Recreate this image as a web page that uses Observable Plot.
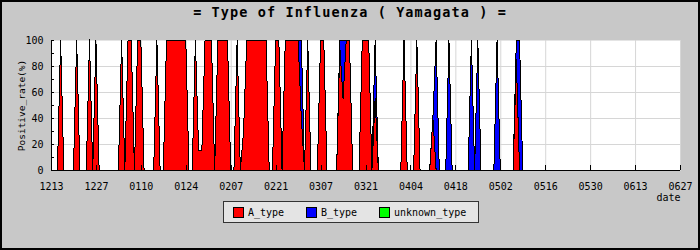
<!DOCTYPE html>
<html>
<head>
<meta charset="utf-8">
<script src="https://cdn.jsdelivr.net/npm/d3@7"></script>
<script src="https://cdn.jsdelivr.net/npm/@observablehq/plot@0.6"></script>
<style>
  html, body { margin: 0; padding: 0; background: #c8c8c8; }
  #chart svg { display: block; }
</style>
</head>
<body>
<div id="chart"></div>
<script>
// ---- data ----
const chartTitle = "= Type of Influenza ( Yamagata ) =";
const yLabel = "Positive_rate(%)";
const xLabel = "date";
const seasonStart = "2014-12-13";
const tickLabels = ["1213","1227","0110","0124","0207","0221","0307","0321","0404","0418","0502","0516","0530","0613","0627"];
const yTickValues = [0, 20, 40, 60, 80, 100];
const yMinorTicks = [0, 10, 20, 30, 40, 50, 60, 70, 80, 90, 100];
const seriesNames = ["A_type", "B_type", "unknown_type"];
const seriesColors = ["#ff0000", "#0000ff", "#00ff00"];

// daily values from 12/13 to 06/27, two weeks per row
const aType = [
  0,0,0,100,0,0,0,0,100,0,0,0,100,0,
  100,0,0,0,0,0,0,0,100,0,100,100,0,100,
  100,0,0,0,0,100,0,0,100,100,100,100,100,100,
  100,0,0,100,15,15,100,100,100,0,100,100,100,100,
  0,0,100,0,30,100,100,100,100,100,100,100,0,0,
  100,100,0,100,100,100,100,100,40,0,100,0,0,0,
  100,100,0,0,0,0,95,55,100,100,0,0,0,100,
  100,100,0,55,0,0,0,0,0,0,0,0,100,0,
  0,0,100,0,0,0,0,40,0,0,0,0,0,0,
  0,0,0,0,0,0,0,0,0,0,0,0,0,0,
  0,0,0,0,0,85,0,0,0,0,0,0,0,0,
  0,0,0,0,0,0,0,0,0,0,0,0,0,0,
  0,0,0,0,0,0,0,0,0,0,0,0,0,0,
  0,0,0,0,0,0,0,0,0,0,0,0,0,0,
  0
];
const bType = [
  0,0,0,0,0,0,0,0,0,0,0,0,0,0,
  0,0,0,0,0,0,0,0,0,0,0,0,0,0,
  0,0,0,0,0,0,0,0,0,0,0,0,0,0,
  0,0,0,0,0,0,0,0,0,0,0,0,0,0,
  0,0,0,0,0,0,0,0,0,0,0,0,0,0,
  0,0,0,0,0,0,0,0,60,0,0,0,0,0,
  0,0,0,0,0,0,5,45,0,0,0,0,0,0,
  0,0,0,45,0,0,0,0,0,0,0,0,0,0,
  0,0,0,0,0,0,0,0,100,0,0,0,100,0,
  0,0,0,0,0,100,0,100,0,0,0,0,0,100,
  0,0,0,0,0,15,100,0,0,0,0,0,0,0,
  0,0,0,0,0,0,0,0,0,0,0,0,0,0,
  0,0,0,0,0,0,0,0,0,0,0,0,0,0,
  0,0,0,0,0,0,0,0,0,0,0,0,0,0,
  0
];
const unknownType = [
  0,0,0,0,0,0,0,0,0,0,0,0,0,0,
  0,0,0,0,0,0,0,0,0,0,0,0,0,0,
  0,0,0,0,0,0,0,0,0,0,0,0,0,0,
  0,0,0,0,0,0,0,0,0,0,0,0,0,0,
  0,0,0,0,0,0,0,0,0,0,0,0,0,0,
  0,0,0,0,0,0,0,0,0,0,0,0,0,0,
  0,0,0,0,0,0,0,0,0,0,0,0,0,0,
  0,0,0,0,0,0,0,0,0,0,0,0,0,0,
  0,0,0,0,0,0,0,0,0,0,0,0,0,0,
  0,0,0,0,0,0,0,0,0,0,0,0,0,0,
  0,0,0,0,0,0,0,0,0,0,0,0,0,0,
  0,0,0,0,0,0,0,0,0,0,0,0,0,0,
  0,0,0,0,0,0,0,0,0,0,0,0,0,0,
  0,0,0,0,0,0,0,0,0,0,0,0,0,0,
  0
];

// ---- build table ----
const start = d3.utcParse("%Y-%m-%d")(seasonStart);
const startYear = start.getUTCFullYear();
const parseLabel = (s) => d3.utcParse("%Y%m%d")((+s.slice(0, 2) >= 12 ? startYear : startYear + 1) + s);
const tickDates = tickLabels.map(parseLabel);
const seriesValues = [aType, bType, unknownType];
const rows = [];
seriesNames.forEach((name, s) => {
  seriesValues[s].forEach((v, i) => rows.push({date: d3.utcDay.offset(start, i), type: name, value: v}));
});

const W = 700, H = 250, mL = 51, mR = 20, mT = 40, mB = 80;
const plotW = W - mL - mR, plotH = H - mT - mB;
const FONT = "'DejaVu Sans Mono', monospace";

const chart = Plot.plot({
  width: W, height: H,
  marginLeft: mL, marginRight: mR, marginTop: mT, marginBottom: mB,
  style: {background: "#c8c8c8", fontFamily: FONT, fontSize: "10px", color: "black", overflow: "visible"},
  x: {type: "utc", domain: [tickDates[0], tickDates[tickDates.length - 1]]},
  y: {domain: [0, 100]},
  color: {domain: seriesNames, range: seriesColors},
  marks: [
    Plot.frame({fill: "white", stroke: "none"}),
    Plot.gridX(tickDates, {stroke: "#d6d6d6", strokeOpacity: 1}),
    Plot.gridY([20, 40, 60, 80], {stroke: "#d6d6d6", strokeOpacity: 1}),
    Plot.areaY(rows, {
      x: "date", y: "value", z: "type", fill: "type", order: seriesNames,
      stroke: "black", strokeWidth: 1, shapeRendering: "crispEdges"
    }),
    Plot.ruleX(tickDates, {stroke: "black", insetTop: plotH - 5, shapeRendering: "crispEdges"}),
    Plot.ruleY(yMinorTicks, {stroke: "black", insetRight: plotW - 3, shapeRendering: "crispEdges"}),
    Plot.ruleX([tickDates[0]], {stroke: "black", shapeRendering: "crispEdges"}),
    Plot.ruleY([0], {stroke: "black", shapeRendering: "crispEdges"}),
    Plot.axisX(tickDates, {tickSize: 0, tickPadding: 12, tickFormat: d3.utcFormat("%m%d"), label: null, fontSize: 10}),
    Plot.axisY(yTickValues, {tickSize: 0, tickPadding: 8, label: yLabel, labelAnchor: "center", labelOffset: 33, labelArrow: "none", fontSize: 10}),
    Plot.text([xLabel], {frameAnchor: "bottom-right", dy: 30, textAnchor: "end", lineAnchor: "bottom", fontSize: 10})
  ]
});

document.getElementById("chart").appendChild(chart);

// ---- title, legend, border ----
const svg = d3.select(chart);
svg.selectAll("[aria-label='y-axis label'] text").style("font-size", "9.5px");

svg.append("text")
  .attr("x", W / 2).attr("y", 17)
  .attr("text-anchor", "middle")
  .style("font-family", FONT).style("font-size", "13.5px").style("letter-spacing", "1.1px")
  .style("font-weight", "bold")
  .attr("fill", "black")
  .text(chartTitle);

const legend = svg.append("g").attr("text-anchor", "start");
legend.append("rect")
  .attr("x", 223.5).attr("y", 201.5).attr("width", 255).attr("height", 21)
  .attr("fill", "#e4e4e4").attr("stroke", "#333");
let lx = 233;
seriesNames.forEach((name, i) => {
  legend.append("rect").attr("x", lx + 0.5).attr("y", 207.5).attr("width", 10).attr("height", 10)
    .attr("fill", seriesColors[i]).attr("stroke", "black");
  legend.append("text").attr("x", lx + 15).attr("y", 216).attr("text-anchor", "start")
    .style("font-family", FONT).style("font-size", "10px").attr("fill", "black").text(name);
  lx += 15 + name.length * 6 + 22;
});

svg.append("rect").attr("x", 1).attr("y", 1).attr("width", W - 2).attr("height", H - 2)
  .attr("fill", "none").attr("stroke", "black").attr("stroke-width", 2);
</script>
</body>
</html>
